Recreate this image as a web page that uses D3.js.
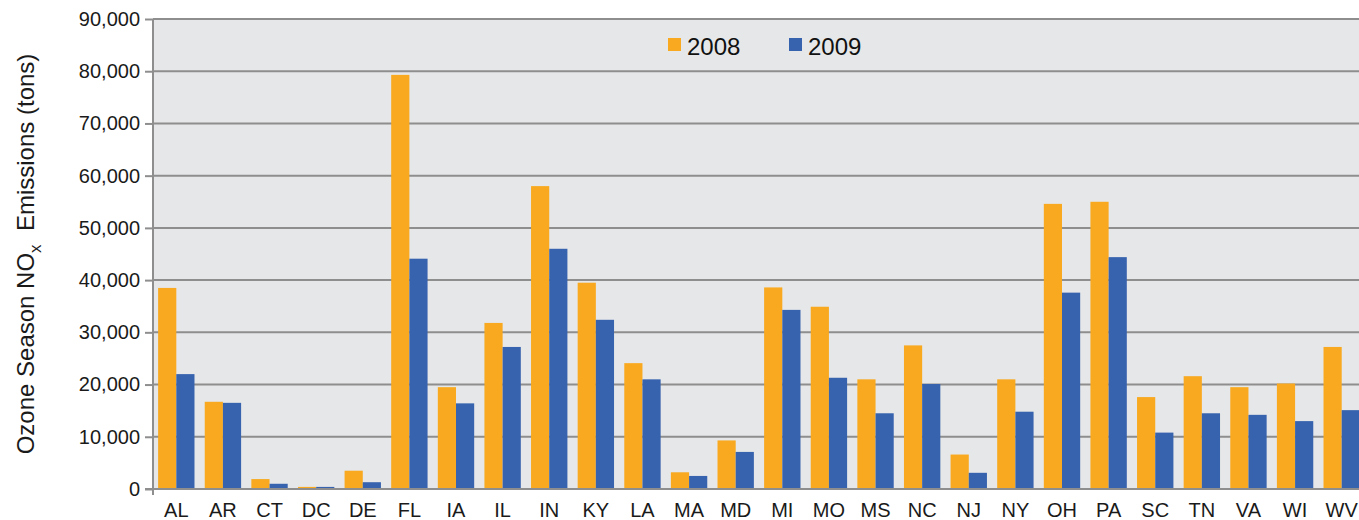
<!DOCTYPE html>
<html>
<head>
<meta charset="utf-8">
<script src="https://cdn.jsdelivr.net/npm/d3@7"></script>
<style>
  body { margin: 0; background: #fff; }
  svg { display: block; font-family: 'Liberation Sans', Arial, sans-serif; }
</style>
</head>
<body>
<svg id="chart" width="1359" height="520"></svg>
<script>
const states = ['AL', 'AR', 'CT', 'DC', 'DE', 'FL', 'IA', 'IL', 'IN', 'KY', 'LA', 'MA', 'MD',
  'MI', 'MO', 'MS', 'NC', 'NJ', 'NY', 'OH', 'PA', 'SC', 'TN', 'VA', 'WI', 'WV'];
const emissions2008 = [38500, 16700, 1900, 400, 3500, 79300, 19500, 31800, 58000, 39500, 24100, 3200, 9300,
  38600, 34900, 21000, 27500, 6600, 21000, 54600, 55000, 17600, 21600, 19500, 20200, 27200];
const emissions2009 = [22000, 16500, 1000, 400, 1300, 44100, 16400, 27200, 46000, 32400, 21000, 2500, 7100,
  34300, 21300, 14500, 20100, 3100, 14800, 37600, 44400, 10800, 14500, 14200, 13000, 15100];
const yTicks = [0, 10000, 20000, 30000, 40000, 50000, 60000, 70000, 80000, 90000];
const seriesNames = ['2008', '2009'];
const colors = ['#f8a91f', '#3763ae'];

const svg = d3.select('#chart');
const plotLeft = 153, plotTop = 19, plotBottom = 489, plotRight = 1365;

const x = d3.scaleBand().domain(states).range([plotLeft, plotRight]).paddingInner(0.22).paddingOuter(0.11);
const xSub = d3.scaleBand().domain(seriesNames).range([0, x.bandwidth()]);
const y = d3.scaleLinear().domain([0, 90000]).range([plotBottom, plotTop]);

// plot background
svg.append('rect')
  .attr('x', plotLeft).attr('y', plotTop)
  .attr('width', plotRight - plotLeft).attr('height', plotBottom - plotTop)
  .attr('fill', '#e6e7e8');

// gridlines
svg.append('g')
  .selectAll('line')
  .data(yTicks.slice(1))
  .enter()
  .append('line')
  .attr('x1', plotLeft).attr('x2', plotRight)
  .attr('y1', d => y(d)).attr('y2', d => y(d))
  .attr('stroke', '#8e8e8e')
  .attr('stroke-width', 2);

// bars
const rows = states.map((s, i) => ({ state: s, values: [emissions2008[i], emissions2009[i]] }));
const groups = svg.append('g')
  .selectAll('g')
  .data(rows)
  .enter()
  .append('g')
  .attr('transform', d => 'translate(' + x(d.state) + ',0)');

groups.selectAll('rect')
  .data(d => d.values.map((v, j) => ({ key: seriesNames[j], value: v, color: colors[j] })))
  .enter()
  .append('rect')
  .attr('x', d => xSub(d.key))
  .attr('y', d => y(d.value))
  .attr('width', xSub.bandwidth())
  .attr('height', d => plotBottom - y(d.value))
  .attr('fill', d => d.color);

// y axis
const yAxis = d3.axisLeft(y)
  .tickValues(yTicks)
  .tickSize(8)
  .tickPadding(5)
  .tickFormat(d3.format(','));
const yg = svg.append('g')
  .attr('transform', 'translate(' + plotLeft + ',0)')
  .call(yAxis);
yg.select('.domain').attr('stroke', '#8e8e8e').attr('stroke-width', 2)
  .attr('d', 'M0,' + plotTop + 'V' + (plotBottom + 6));
yg.selectAll('.tick line').attr('stroke', '#8e8e8e').attr('stroke-width', 2);
yg.selectAll('.tick text')
  .attr('fill', '#1a1a1a')
  .attr('font-size', '20px')
  .attr('font-family', "'Liberation Sans', Arial, sans-serif");

// x axis
const xAxis = d3.axisBottom(x).tickSize(0).tickPadding(14);
const xg = svg.append('g')
  .attr('transform', 'translate(0,' + plotBottom + ')')
  .call(xAxis);
xg.select('.domain').attr('stroke', '#8e8e8e').attr('stroke-width', 2)
  .attr('d', 'M' + (plotLeft - 8) + ',0H' + plotRight);
xg.selectAll('.tick text')
  .attr('fill', '#1a1a1a')
  .attr('font-size', '20px')
  .attr('font-family', "'Liberation Sans', Arial, sans-serif");

// y axis title
const title = svg.append('text')
  .attr('transform', 'translate(34,' + 254 + ') rotate(-90)')
  .attr('text-anchor', 'middle')
  .attr('font-size', '24px')
  .attr('fill', '#1a1a1a');
title.append('tspan').text('Ozone Season NO');
title.append('tspan').attr('dy', 7).attr('font-size', '17px').text('x');
title.append('tspan').attr('dy', -7).text('\u00a0 Emissions (tons)');

// legend
const legend = svg.append('g').attr('transform', 'translate(668,38)');
seriesNames.forEach((name, i) => {
  const g = legend.append('g').attr('transform', 'translate(' + i * 121 + ',0)');
  g.append('rect').attr('width', 13).attr('height', 13).attr('fill', colors[i]);
  g.append('text')
    .attr('x', 19).attr('y', 17)
    .attr('font-size', '24px')
    .attr('fill', '#111')
    .text(name);
});
</script>
</body>
</html>
